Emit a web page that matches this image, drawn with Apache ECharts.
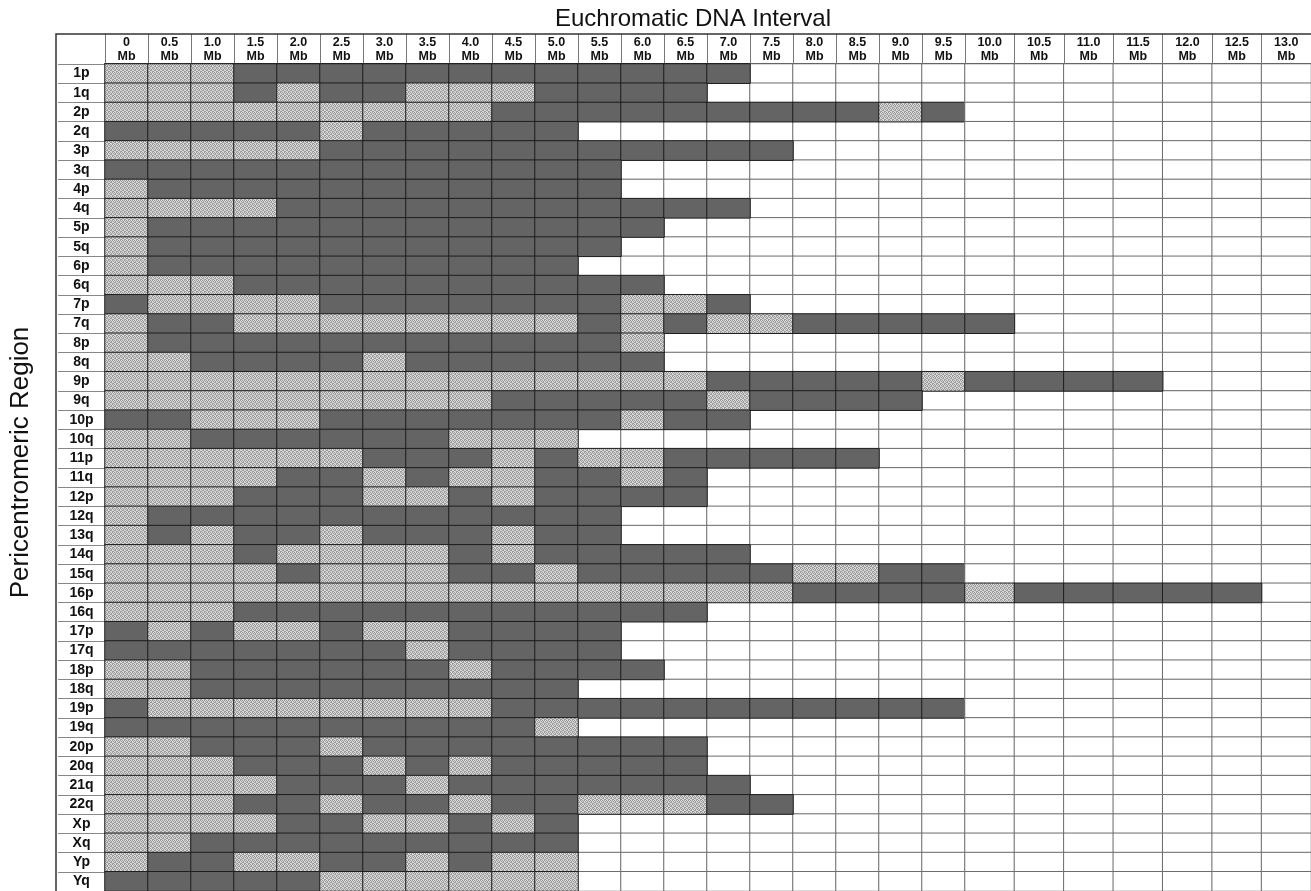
<!DOCTYPE html>
<html><head><meta charset="utf-8">
<script src="https://cdn.jsdelivr.net/npm/echarts@6/dist/echarts.min.js"></script>
<style>html,body{margin:0;padding:0;background:#fff}#c{width:1311px;height:891px}</style>
</head><body><div id="c"></div>
<script>
// ---- data ----
const rowLabels = ['1p','1q','2p','2q','3p','3q','4p','4q','5p','5q','6p','6q','7p','7q','8p','8q','9p','9q','10p','10q','11p','11q','12p','12q','13q','14q','15q','16p','16q','17p','17q','18p','18q','19p','19q','20p','20q','21q','22q','Xp','Xq','Yp','Yq'];
const intervalsNarrow = ['0','0.5','1.0','1.5','2.0','2.5','3.0','3.5','4.0','4.5','5.0','5.5','6.0','6.5','7.0','7.5','8.0','8.5','9.0','9.5'];
const intervalsWide = ['10.0','10.5','11.0','11.5','12.0','12.5','13.0'];
// per row, one digit per interval: 2 = dark cell, 1 = stippled cell, 0 / missing = empty
const cellCodes = [
  '111222222222222',            // 1p
  '11121221112222',             // 1q
  '11111111122222222212',       // 2p
  '22222122222',                // 2q
  '1111122222222222',           // 3p
  '222222222222',               // 3q
  '122222222222',               // 4p
  '111122222222222',            // 4q
  '1222222222222',              // 5p
  '122222222222',               // 5q
  '12222222222',                // 6p
  '1112222222222',              // 6q
  '211112222222112',            // 7p
  '122111111112121122222',      // 7q
  '1222222222221',              // 8p
  '1122221222222',              // 8q
  '111111111111112222212222',   // 9p
  '1111111112222212222',        // 9q
  '221112222222122',            // 10p
  '11222222111',                // 10q
  '111111222121122222',         // 11p
  '11112212112212',             // 11q
  '11122211212222',             // 12p
  '122222222222',               // 12q
  '121221222122',               // 13q
  '111211112122222',            // 14q
  '11112111221222221122',       // 15q
  '11111111111111112222122222', // 16p
  '11122222222222',             // 16q
  '212112112222',               // 17p
  '222222212222',               // 17q
  '1122222212222',              // 18p
  '11222222222',                // 18q
  '21111111122222222222',       // 19p
  '22222222221',                // 19q
  '11222122222222',             // 20p
  '11122212122222',             // 20q
  '111122212222222',            // 21q
  '1112212212211122',           // 22q
  '11112211212',                // Xp
  '11222222222',                // Xq
  '12211221211',                // Yp
  '22222111111'                 // Yq
];
const chartTitle = 'Euchromatic DNA Interval';
const rowAxisTitle = 'Pericentromeric Region';

// ---- styles ----
function makeStipple() {
  const c = document.createElement('canvas');
  c.width = 4; c.height = 4;
  const g = c.getContext('2d');
  g.fillStyle = '#d8d8d8'; g.fillRect(0, 0, 4, 4);
  g.fillStyle = '#9c9c9c';
  [[0,0],[2,0],[1,1],[3,2],[0,3],[2,2],[1,3],[3,1]].forEach(p => g.fillRect(p[0], p[1], 1, 1));
  return c;
}
const stipple = { image: makeStipple(), repeat: 'repeat' };
const DARK = '#646464';
function styleFor(v) {
  if (v === 2) return { color: DARK, borderColor: '#1e1e1e', borderWidth: 1 };
  if (v === 1) return { color: stipple, borderColor: '#1e1e1e', borderWidth: 1 };
  return { color: '#ffffff', borderColor: '#6a6a6a', borderWidth: 1 };
}
function buildData(colStart, colCount) {
  const whites = [], filled = [];
  rowLabels.forEach((r, ri) => {
    const code = cellCodes[ri];
    for (let c = 0; c < colCount; c++) {
      const v = Number(code[colStart + c] || 0);
      const item = { value: [c, ri, v], itemStyle: styleFor(v) };
      (v ? filled : whites).push(item);
    }
  });
  return whites.concat(filled);
}

const TABLE_LEFT = 56, TOP = 64, HEIGHT = 827, LEFT = 103, NARROW_W = 43.1, WIDE_W = 50.3, HEADER_H = 30;
const FONT = 'Liberation Sans, Arial, sans-serif';
const xLabel = {
  formatter: v => v + '\nMb', fontFamily: FONT, fontWeight: 'bold',
  fontSize: 12.5, lineHeight: 13.5, color: '#111', margin: 1, interval: 0
};
const xTick = { show: true, length: HEADER_H, interval: 0, lineStyle: { color: '#777', width: 1 } };

const chart = echarts.init(document.getElementById('c'), null, { renderer: 'canvas' });
chart.setOption({
  animation: false,
  backgroundColor: '#fff',
  title: {
    text: chartTitle, left: 688, textAlign: 'center', top: 2,
    textStyle: { fontFamily: FONT, fontSize: 24, fontWeight: 'normal', color: '#111' }
  },
  grid: [
    { left: LEFT, top: TOP, width: NARROW_W * intervalsNarrow.length, height: HEIGHT },
    { left: LEFT + NARROW_W * intervalsNarrow.length, top: TOP, width: WIDE_W * intervalsWide.length, height: HEIGHT }
  ],
  xAxis: [
    { type: 'category', gridIndex: 0, position: 'top', data: intervalsNarrow, axisLabel: xLabel, axisTick: xTick,
      axisLine: { show: true, lineStyle: { color: '#222', width: 2 } }, splitLine: { show: false } },
    { type: 'category', gridIndex: 1, position: 'top', data: intervalsWide, axisLabel: xLabel, axisTick: xTick,
      axisLine: { show: true, lineStyle: { color: '#222', width: 2 } }, splitLine: { show: false } }
  ],
  yAxis: [
    { type: 'category', gridIndex: 0, inverse: true, data: rowLabels,
      name: rowAxisTitle, nameLocation: 'middle', nameRotate: 90, nameGap: 71,
      nameTextStyle: { fontFamily: FONT, fontSize: 26, color: '#111', padding: [0, 0, 0, 30] },
      axisLabel: { fontFamily: FONT, fontWeight: 'bold', fontSize: 14, color: '#111',
        align: 'center', margin: (LEFT - TABLE_LEFT) / 2, interval: 0 },
      axisTick: { show: true, length: LEFT - TABLE_LEFT, interval: 0, lineStyle: { color: '#888' } },
      axisLine: { show: true, lineStyle: { color: '#222', width: 1 } } },
    { type: 'category', gridIndex: 1, inverse: true, data: rowLabels, show: false }
  ],
  series: [
    { type: 'heatmap', xAxisIndex: 0, yAxisIndex: 0, data: buildData(0, intervalsNarrow.length), emphasis: { disabled: true } },
    { type: 'heatmap', xAxisIndex: 1, yAxisIndex: 1, data: buildData(intervalsNarrow.length, intervalsWide.length), emphasis: { disabled: true } }
  ],
  graphic: [
    { type: 'rect', shape: { x: TABLE_LEFT, y: TOP - HEADER_H, width: 1330, height: HEIGHT + HEADER_H + 5 },
      style: { fill: 'none', stroke: '#333', lineWidth: 1.5 }, silent: true, z: 100 }
  ]
});
</script></body></html>
